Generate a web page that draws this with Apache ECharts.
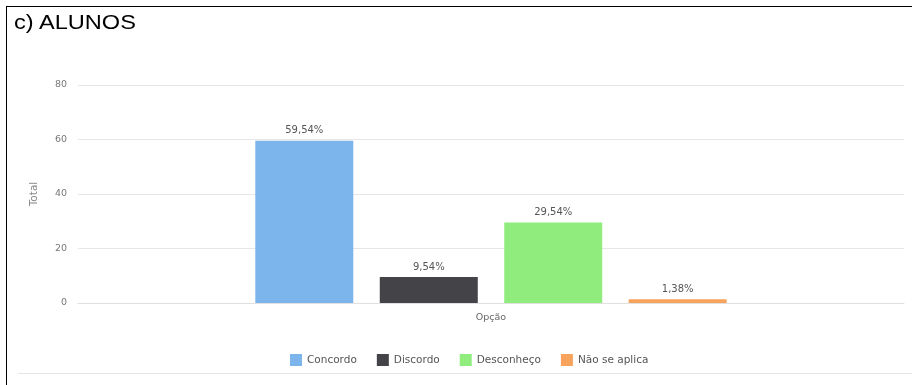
<!DOCTYPE html>
<html>
<head>
<meta charset="utf-8">
<script src="https://cdn.jsdelivr.net/npm/echarts@6/dist/echarts.min.js"></script>
<style>
  html, body { margin: 0; padding: 0; background: #fff; }
  #wrap { position: relative; width: 912px; height: 385px; overflow: hidden; }
  #chart { position: absolute; left: 0; top: 0; width: 912px; height: 385px; }
  #frameTop { position: absolute; left: 6px; top: 6px; width: 906px; height: 0; border-top: 1.5px solid #000; }
  #frameLeft { position: absolute; left: 6px; top: 6px; width: 0; height: 379px; border-left: 1.5px solid #000; }
  #bottomLine { position: absolute; left: 18px; top: 373px; width: 894px; height: 0; border-top: 1px solid #e6e6e6; }
  #title { position: absolute; left: 14px; top: 11px; font-family: "Liberation Sans", Arial, sans-serif; font-size: 20px; color: #000; transform: scaleX(1.18); transform-origin: left top; white-space: nowrap; }
</style>
</head>
<body>
<div id="wrap">
  <div id="chart"></div>
  <div id="frameTop"></div>
  <div id="frameLeft"></div>
  <div id="bottomLine"></div>
  <div id="title">c) ALUNOS</div>
</div>
<script>
const categories = ['Opção'];
const seriesNames = ['Concordo', 'Discordo', 'Desconheço', 'Não se aplica'];
const seriesValues = [59.54, 9.54, 29.54, 1.38];
const seriesColors = ['#7cb5ec', '#434348', '#90ed7d', '#f7a35c'];
const yTicks = [0, 20, 40, 60, 80];

const font = '"DejaVu Sans", Verdana, sans-serif';
const chart = echarts.init(document.getElementById('chart'), null, { renderer: 'canvas' });

const series = seriesNames.map((name, i) => ({
  name: name,
  type: 'bar',
  data: [seriesValues[i]],
  barWidth: 98,
  barGap: '27%',
  itemStyle: { color: seriesColors[i] },
  label: {
    show: true,
    position: 'top',
    distance: 5,
    color: '#555',
    fontFamily: font,
    fontSize: 10,
    formatter: p => p.value.toFixed(2).replace('.', ',') + '%'
  },
  emphasis: { disabled: true }
}));

chart.setOption({
  animation: false,
  backgroundColor: 'transparent',
  grid: { left: 78, right: 8, top: 85, bottom: 82, containLabel: false },
  legend: {
    data: seriesNames,
    left: 285,
    top: 349,
    itemWidth: 12,
    itemHeight: 12,
    itemGap: 20,
    icon: 'rect',
    textStyle: { color: '#555', fontFamily: font, fontSize: 10.5 }
  },
  xAxis: {
    type: 'category',
    data: categories,
    axisLine: { show: true, lineStyle: { color: '#e0e0e0', width: 1 } },
    axisTick: { show: false },
    axisLabel: { color: '#666', fontFamily: font, fontSize: 9.5, margin: 10 }
  },
  yAxis: {
    type: 'value',
    min: yTicks[0],
    max: yTicks[yTicks.length - 1],
    interval: 20,
    name: 'Total',
    nameLocation: 'middle',
    nameGap: 38,
    nameRotate: 90,
    nameTextStyle: { color: '#888', fontFamily: font, fontSize: 10.5 },
    axisLine: { show: false },
    axisTick: { show: false },
    axisLabel: { color: '#777', fontFamily: font, fontSize: 9.5, margin: 11 },
    splitLine: { lineStyle: { color: '#e6e6e6', width: 1 } }
  },
  series: series
});
</script>
</body>
</html>
